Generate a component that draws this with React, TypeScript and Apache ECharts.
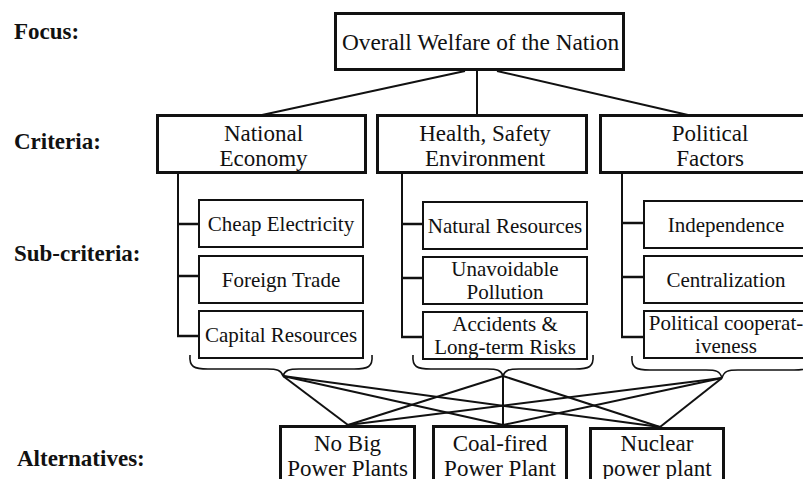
import React, { useEffect, useRef } from "react";
import * as echarts from "echarts";

// ---- content ----
const levelLabels = ["Focus:", "Criteria:", "Sub-criteria:", "Alternatives:"];
const focusText = "Overall Welfare of the Nation";
const criteria = ["National\nEconomy", "Health, Safety\nEnvironment", "Political\nFactors"];
const subCriteria = [
  ["Cheap Electricity", "Foreign Trade", "Capital Resources"],
  ["Natural Resources", "Unavoidable\nPollution", "Accidents &\nLong-term Risks"],
  ["Independence", "Centralization", "Political cooperat-\niveness"],
];
const alternatives = ["No Big\nPower Plants", "Coal-fired\nPower Plant", "Nuclear\npower plant"];

// ---- layout (pixels) ----
const labelX = [14, 14, 14, 17];
const labelY = [31, 141.5, 253.5, 458];
const focusBox = { x: 335.5, y: 13.5, w: 288, h: 56 };
const critBoxes = [
  { x: 157.5, y: 115.5, w: 208, h: 57, tx: 263.5 },
  { x: 377.5, y: 115.5, w: 209, h: 57, tx: 485 },
  { x: 600.5, y: 115.5, w: 220, h: 57, tx: 710 },
];
const critLinkTop = [465, 477, 497];
const critLinkBottom = [262, 477, 688];
const subLeft = [199, 423, 644];
const subW = 164;
const subTop = [[200, 256, 311], [202, 257, 312], [201, 256, 311]];
const subH = 47;
const trunkX = [178, 402, 622];
const tickY = [[224, 276, 336], [224, 278, 337], [223, 277, 337]];
const braces = [
  { L: 190, C: 283, R: 372, y0: 355, ym: 369, yp: 376 },
  { L: 413, C: 503, R: 593, y0: 355, ym: 369, yp: 376 },
  { L: 632, C: 722, R: 812, y0: 356, ym: 370, yp: 378 },
];
const altTargets = [
  { x: 348, y: 425 },
  { x: 503, y: 425 },
  { x: 660, y: 427 },
];
const altBoxes = [
  { x: 280.5, y: 426.5, w: 134 },
  { x: 433.5, y: 426.5, w: 133 },
  { x: 590.5, y: 428.5, w: 133 },
];

const FONT = "Liberation Serif";
const INK = "#111";

function rect(x: number, y: number, w: number, h: number, lw: number) {
  return {
    type: "rect",
    shape: { x, y, width: w, height: h },
    style: { fill: "#fff", stroke: INK, lineWidth: lw },
  };
}
function line(x1: number, y1: number, x2: number, y2: number, lw: number) {
  return {
    type: "line",
    shape: { x1, y1, x2, y2 },
    style: { stroke: INK, lineWidth: lw },
  };
}
function text(t: string, x: number, y: number, size: number, bold = false, lh = 25, align = "center") {
  return {
    type: "text",
    x,
    y,
    style: {
      text: t,
      fontFamily: FONT,
      fontSize: size,
      fontWeight: bold ? "bold" : "normal",
      fill: INK,
      align,
      verticalAlign: "middle",
      lineHeight: lh,
    },
  };
}
function bez(x1: number, y1: number, c1x: number, c1y: number, c2x: number, c2y: number, x2: number, y2: number) {
  return {
    type: "bezierCurve",
    shape: { x1, y1, cpx1: c1x, cpy1: c1y, cpx2: c2x, cpy2: c2y, x2, y2 },
    style: { stroke: INK, lineWidth: 1.6, fill: "none" },
  };
}

function buildGraphics() {
  const els: any[] = [];
  levelLabels.forEach((t, i) => els.push(text(t, labelX[i], labelY[i], 23, true, 25, "left")));

  critLinkTop.forEach((x, i) => els.push(line(x, 71, critLinkBottom[i], 115, 2)));

  trunkX.forEach((x, c) => {
    els.push(line(x, 172, x, tickY[c][2] + 1, 2));
    tickY[c].forEach((y) => els.push(line(x - 1, y, subLeft[c], y, 2.5)));
  });

  braces.forEach((b) => {
    altTargets.forEach((t) => els.push(line(b.C, b.yp, t.x, t.y, 2)));
  });

  braces.forEach((b) => {
    const { L, C, R, y0, ym, yp } = b;
    els.push(bez(L, y0, L - 1, ym - 2, L + 4, ym, L + 18, ym));
    els.push(line(L + 18, ym, C - 16, ym, 1.6));
    els.push(bez(C - 16, ym, C - 6, ym, C - 2, ym + 1, C, yp));
    els.push(bez(R, y0, R + 1, ym - 2, R - 4, ym, R - 18, ym));
    els.push(line(R - 18, ym, C + 16, ym, 1.6));
    els.push(bez(C + 16, ym, C + 6, ym, C + 2, ym + 1, C, yp));
  });

  els.push(rect(focusBox.x, focusBox.y, focusBox.w, focusBox.h, 3));
  els.push(text(focusText, focusBox.x + focusBox.w / 2 + 1, focusBox.y + focusBox.h / 2, 23.3));

  critBoxes.forEach((b, i) => {
    els.push(rect(b.x, b.y, b.w, b.h, 3));
    els.push(text(criteria[i], b.tx, 146, 23, false, 25.5));
  });

  subCriteria.forEach((col, c) => {
    col.forEach((t, r) => {
      const top = subTop[c][r];
      els.push(rect(subLeft[c], top, subW, subH, 2));
      els.push(text(t, subLeft[c] + subW / 2, top + subH / 2, 21, false, 23.5));
    });
  });

  altBoxes.forEach((b, i) => {
    els.push(rect(b.x, b.y, b.w, 90, 3));
    els.push(text(alternatives[i], b.x + b.w / 2, 455.5, 23, false, 25));
  });

  return els;
}

export default function App() {
  const ref = useRef<HTMLDivElement>(null);
  useEffect(() => {
    if (!ref.current) return;
    const chart = echarts.init(ref.current, undefined, { renderer: "svg" });
    chart.setOption({
      animation: false,
      backgroundColor: "#fff",
      graphic: { elements: buildGraphics() },
    });
    return () => chart.dispose();
  }, []);
  return (
    <div
      ref={ref}
      style={{ position: "fixed", left: 0, top: 0, width: 803, height: 479, background: "#fff" }}
    />
  );
}
